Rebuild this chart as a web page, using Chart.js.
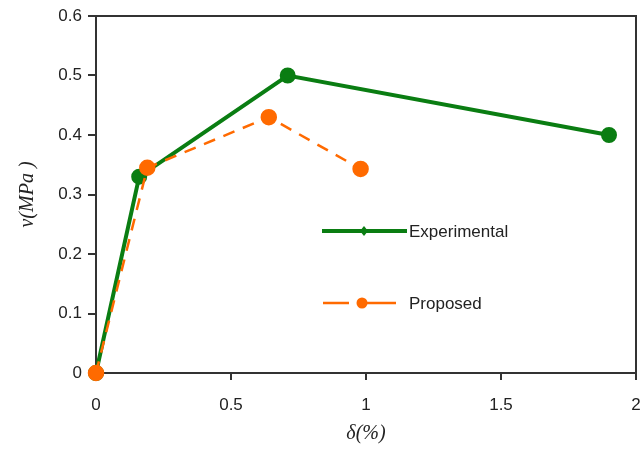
<!DOCTYPE html>
<html>
<head>
<meta charset="utf-8">
<script src="https://cdn.jsdelivr.net/npm/chart.js@4.4.1/dist/chart.umd.min.js"></script>
<style>
  html, body { margin: 0; padding: 0; background: #fff; }
  #wrap { width: 643px; height: 454px; }
</style>
</head>
<body>
<div id="wrap"><canvas id="shearChart"></canvas></div>
<script>
// drift (%) and shear stress (MPa)
const expDrift = [0, 0.16, 0.71, 1.9];
const expStress = [0, 0.33, 0.5, 0.4];
const propDrift = [0, 0.19, 0.64, 0.98];
const propStress = [0, 0.345, 0.43, 0.343];
const xTicks = [0, 0.5, 1, 1.5, 2];
const yTicks = [0, 0.1, 0.2, 0.3, 0.4, 0.5, 0.6];

const GREEN = '#0a7d12';
const ORANGE = '#ff6a00';
const AXIS = '#333333';
const TICK_FONT = { family: '"Liberation Sans", Arial, sans-serif', size: 17 };
const TITLE_FONT = { family: '"Liberation Serif", "Times New Roman", serif', size: 20, style: 'italic' };

function toPoints(xs, ys) {
  return xs.map((x, i) => ({ x: x, y: ys[i] }));
}

// box around the plot + legend inside it
const framePlugin = {
  id: 'frame',
  afterDraw(chart) {
    const c = chart.ctx;
    const a = chart.chartArea;
    c.save();
    c.strokeStyle = AXIS;
    c.lineWidth = 2;
    c.beginPath();
    c.moveTo(a.left, a.top);
    c.lineTo(a.right, a.top);
    c.lineTo(a.right, a.bottom);
    c.stroke();

    // legend
    c.font = '17px "Liberation Sans", Arial, sans-serif';
    c.textBaseline = 'middle';

    let y = 231;
    c.strokeStyle = GREEN;
    c.lineWidth = 4;
    c.beginPath();
    c.moveTo(322, y);
    c.lineTo(407, y);
    c.stroke();
    c.fillStyle = GREEN;
    c.beginPath();
    c.moveTo(364, y - 5); c.lineTo(368, y); c.lineTo(364, y + 5); c.lineTo(360, y);
    c.closePath();
    c.fill();
    c.fillStyle = '#222';
    c.fillText('Experimental', 409, y + 1);

    y = 303;
    c.strokeStyle = ORANGE;
    c.lineWidth = 2.5;
    c.beginPath();
    c.moveTo(323, y); c.lineTo(349, y);
    c.moveTo(359, y); c.lineTo(396, y);
    c.stroke();
    c.fillStyle = ORANGE;
    c.beginPath();
    c.arc(362, y, 5.5, 0, Math.PI * 2);
    c.fill();
    c.fillStyle = '#222';
    c.fillText('Proposed', 409, y + 1);
    c.restore();
  }
};

new Chart(document.getElementById('shearChart'), {
  type: 'scatter',
  data: {
    datasets: [
      {
        label: 'Experimental',
        data: toPoints(expDrift, expStress),
        showLine: true,
        borderColor: GREEN,
        backgroundColor: GREEN,
        borderWidth: 4,
        pointRadius: 6,
        pointStyle: 'circle',
        tension: 0,
        clip: false,
        order: 2
      },
      {
        label: 'Proposed',
        data: toPoints(propDrift, propStress),
        showLine: true,
        borderColor: ORANGE,
        backgroundColor: ORANGE,
        borderWidth: 2.5,
        borderDash: [12, 9],
        pointRadius: 7,
        tension: 0,
        clip: false,
        order: 1
      }
    ]
  },
  options: {
    responsive: true,
    maintainAspectRatio: false,
    animation: false,
    layout: { autoPadding: false, padding: { top: 16, right: 7, left: 16, bottom: 0 } },
    plugins: { legend: { display: false }, tooltip: { enabled: false } },
    scales: {
      x: {
        type: 'linear',
        min: 0, max: 2,
        afterBuildTicks: s => { s.ticks = xTicks.map(v => ({ value: v })); },
        afterFit: s => { s.height = 81; s.paddingLeft = 0; s.paddingRight = 0; },
        grid: { drawOnChartArea: false, drawTicks: true, tickLength: 7, color: AXIS, lineWidth: 2 },
        border: { display: true, color: AXIS, width: 2 },
        ticks: {
          color: '#222', padding: 15, font: TICK_FONT,
          callback: v => String(v)
        },
        title: {
          display: true, text: 'δ(%)', color: '#222', padding: { top: 0, bottom: 8 },
          font: TITLE_FONT
        }
      },
      y: {
        type: 'linear',
        min: 0, max: 0.6,
        afterBuildTicks: s => { s.ticks = yTicks.map(v => ({ value: v })); },
        afterFit: s => { s.width = 80; s.paddingTop = 0; s.paddingBottom = 0; },
        grid: { drawOnChartArea: false, drawTicks: true, tickLength: 8, color: AXIS, lineWidth: 2 },
        border: { display: true, color: AXIS, width: 2 },
        ticks: {
          color: '#222', padding: 6, font: TICK_FONT,
          callback: v => String(v)
        },
        title: {
          display: true, text: 'v(MPa )', color: '#222', padding: { top: 0, bottom: 0 },
          font: TITLE_FONT
        }
      }
    }
  },
  plugins: [framePlugin]
});
</script>
</body>
</html>
